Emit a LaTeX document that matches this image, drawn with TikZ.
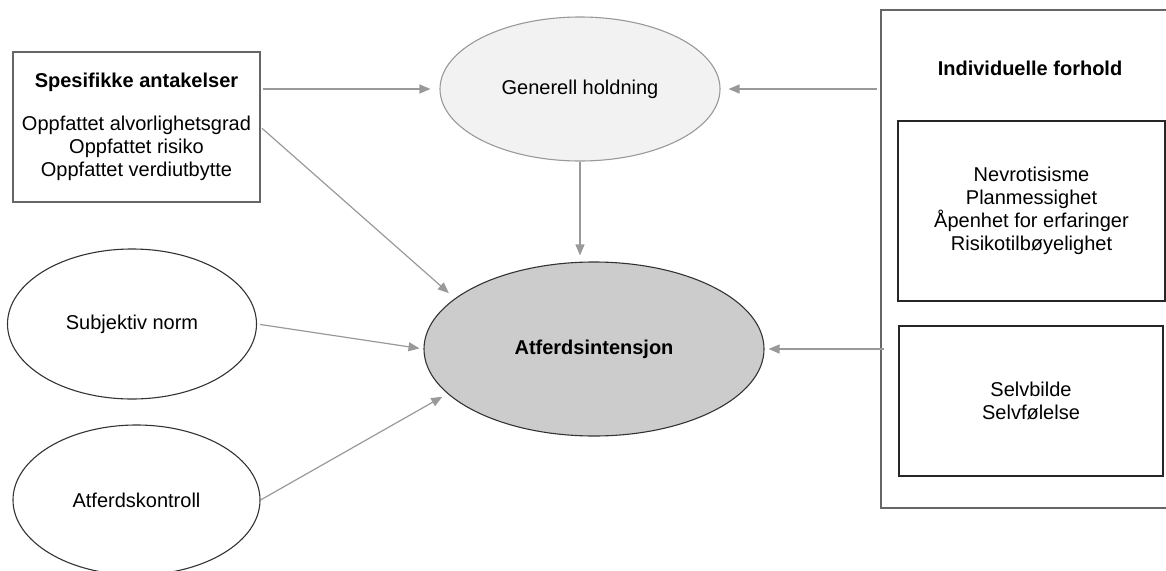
\documentclass[tikz,border=0pt]{standalone}
\usepackage{fontspec}
\setmainfont{Liberation Sans}
\usetikzlibrary{shapes.geometric,arrows.meta}

\begin{document}
\begin{tikzpicture}[x=1pt,y=-1pt,
    every node/.style={font=\fontsize{20}{23}\selectfont,align=center},
    oval/.style={ellipse,draw=black!80,line width=1.1pt,fill=white},
    box/.style={rectangle,draw=black!85,line width=1.1pt},
    link/.style={draw=black!40,line width=1.2pt,-{Triangle[length=11pt,width=9pt]}}]
            \clip (0,0) rectangle (1166,570);

            % venstre side
            \node[box,draw=black!60,minimum width=247,minimum height=150] (spes) at (136.5,127)
                {\textbf{Spesifikke antakelser}\\[20pt]Oppfattet alvorlighetsgrad\\Oppfattet risiko\\Oppfattet verdiutbytte};
            \node[oval,minimum width=249,minimum height=150] (subj) at (132,324) {Subjektiv norm};
            \node[oval,minimum width=247,minimum height=150] (kontr) at (136.5,500) {Atferdskontroll};

            % midten
            \node[oval,draw=black!40,fill=black!5,minimum width=280,minimum height=144] (gen) at (580,89) {Generell holdning};
            \node[oval,fill=black!20,minimum width=340,minimum height=174] (atf) at (594,349) {\textbf{Atferdsintensjon}};

            % hoyre side
            \node[box,draw=black!60,minimum width=299,minimum height=498] (indiv) at (1030.5,259) {};
            \node (indivtitle) at (1030,68) {\textbf{Individuelle forhold}};
            \node[box,minimum width=267,minimum height=180] (trekk) at (1031.5,211)
                {Nevrotisisme\\Planmessighet\\Åpenhet for erfaringer\\Risikotilbøyelighet};
            \node[box,minimum width=264,minimum height=150] (selv) at (1031,401) {Selvbilde\\Selvfølelse};

            \draw[link,shorten <=2pt,shorten >=9pt] (spes.east |- gen.west) -- (gen.west);
            \draw[link,shorten <=3pt,shorten >=8pt] (indiv.west |- gen.east) -- (gen.east);
            \draw[link,shorten >=6pt] (gen.south) -- (gen.south |- atf.north);
            \draw[link,shorten <=2pt,shorten >=8pt] (spes.east) -- (atf.160);
            \draw[link,shorten <=3pt,shorten >=4pt] (subj.east) -- (atf.west);
            \draw[link,shorten >=6pt] (kontr.east) -- (atf.197);
            \draw[link,shorten <=-4pt,shorten >=4pt] (indiv.west |- atf.east) -- (atf.east);
        \end{tikzpicture}
\end{document}
